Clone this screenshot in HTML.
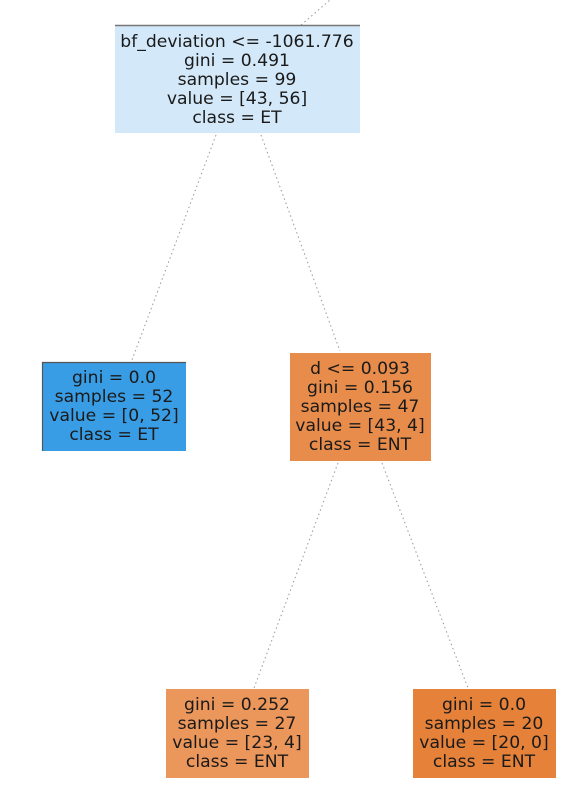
<!DOCTYPE html>
<html><head><meta charset="utf-8"><style>
html,body{margin:0;padding:0;background:#fff;width:575px;height:787px;overflow:hidden}
text{font-family:"DejaVu Sans","Liberation Sans",sans-serif;font-size:17.2px;fill:#1a1a1a;text-anchor:middle}
</style></head><body>
<svg width="575" height="787" viewBox="0 0 575 787" xmlns="http://www.w3.org/2000/svg">
<g stroke="#999" stroke-width="1" stroke-dasharray="1.5,3" fill="none">
<line x1="301" y1="25" x2="330" y2="0"/>
<line x1="216" y1="135" x2="132" y2="360"/>
<line x1="261" y1="135" x2="340" y2="351"/>
<line x1="338" y1="463" x2="254" y2="688"/>
<line x1="382" y1="463" x2="468" y2="688"/>
</g>
<rect x="115" y="25" width="245" height="108" fill="#d3e8f8"/>
<line x1="115" y1="25.5" x2="360" y2="25.5" stroke="#777" stroke-width="1.5"/>
<text x="237" y="47">bf_deviation &lt;= -1061.776</text>
<text x="237" y="66">gini = 0.491</text>
<text x="237" y="85">samples = 99</text>
<text x="237" y="104">value = [43, 56]</text>
<text x="237" y="123">class = ET</text>

<rect x="42" y="362" width="144" height="89" fill="#399de5"/>
<path d="M42.5 451 V362.5 H186" stroke="#555" stroke-width="1.2" fill="none"/>
<text x="114" y="383">gini = 0.0</text>
<text x="114" y="402">samples = 52</text>
<text x="114" y="421">value = [0, 52]</text>
<text x="114" y="440">class = ET</text>

<rect x="290" y="353" width="141" height="108" fill="#e78c4a"/>
<text x="360" y="374">d &lt;= 0.093</text>
<text x="360" y="393">gini = 0.156</text>
<text x="360" y="412">samples = 47</text>
<text x="360" y="431">value = [43, 4]</text>
<text x="360" y="450">class = ENT</text>

<rect x="166" y="689" width="143" height="89" fill="#eb965a"/>
<text x="237" y="710">gini = 0.252</text>
<text x="237" y="729">samples = 27</text>
<text x="237" y="748">value = [23, 4]</text>
<text x="237" y="767">class = ENT</text>

<rect x="413" y="689" width="143" height="89" fill="#e58139"/>
<text x="484" y="710">gini = 0.0</text>
<text x="484" y="729">samples = 20</text>
<text x="484" y="748">value = [20, 0]</text>
<text x="484" y="767">class = ENT</text>
</svg>
</body></html>
